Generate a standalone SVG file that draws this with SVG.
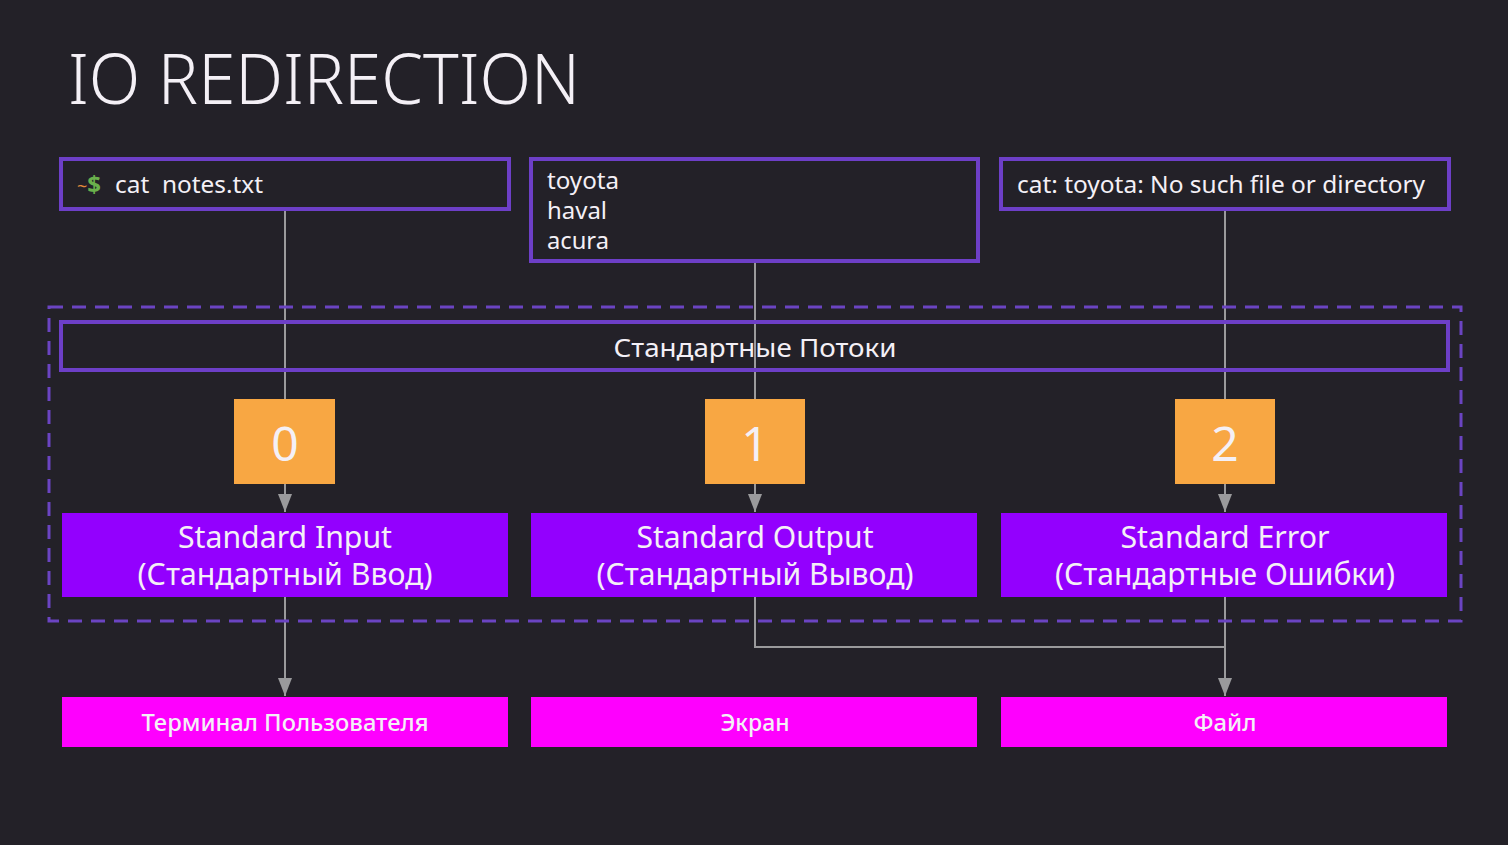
<svg xmlns="http://www.w3.org/2000/svg" width="1508" height="845" viewBox="0 0 1508 845">
<style>
.bg{fill:#232128}
.frame{fill:none;stroke:#6d3fc7;stroke-width:4}
.dash{fill:none;stroke:#6b44c2;stroke-width:3;stroke-dasharray:14 9}
.fd{fill:#f8a743}
.std{fill:#9300fe}
.dst{fill:#fe00fe}
.t{font-family:"Noto Sans","Open Sans","DejaVu Sans",sans-serif;fill:#f4f0f6}
.c{text-anchor:middle}
.conn{fill:none;stroke:#9a9a9c;stroke-width:2}
</style>
<defs>
<marker id="arr" viewBox="0 0 18 14" refX="18" refY="7" markerWidth="18" markerHeight="14" markerUnits="userSpaceOnUse" orient="auto">
<path d="M0,0 L18,7 L0,14 Z" fill="#9a9a9c"/>
</marker>
</defs>
<rect class="bg" x="0" y="0" width="1508" height="845"/>
<text class="t" x="68" y="104" font-size="70" font-weight="300" textLength="512" lengthAdjust="spacingAndGlyphs">IO REDIRECTION</text>

<g id="connectors">
<line class="conn" x1="285" y1="209" x2="285" y2="399"/>
<line class="conn" x1="755" y1="261" x2="755" y2="399"/>
<line class="conn" x1="1225" y1="209" x2="1225" y2="399"/>
<line class="conn" x1="285" y1="484" x2="285" y2="512" marker-end="url(#arr)"/>
<line class="conn" x1="755" y1="484" x2="755" y2="512" marker-end="url(#arr)"/>
<line class="conn" x1="1225" y1="484" x2="1225" y2="512" marker-end="url(#arr)"/>
<line class="conn" x1="285" y1="597" x2="285" y2="696" marker-end="url(#arr)"/>
<polyline class="conn" points="755,597 755,647 1225,647"/>
<line class="conn" x1="1225" y1="597" x2="1225" y2="696" marker-end="url(#arr)"/>
</g>

<g id="cmd">
<rect class="frame" x="61" y="159" width="448" height="50"/>
<text class="t" x="77" y="193" font-size="24"><tspan fill="#e0883a" font-size="18">~</tspan><tspan fill="#6ab04c" font-weight="700">$</tspan></text>
<text class="t" x="115" y="193" font-size="24" textLength="148" lengthAdjust="spacingAndGlyphs" xml:space="preserve">cat  notes.txt</text>
</g>

<g id="stdout-text">
<rect class="frame" x="531" y="159" width="447" height="102"/>
<text class="t" x="547" y="189" font-size="23" textLength="72" lengthAdjust="spacingAndGlyphs">toyota</text>
<text class="t" x="547" y="219" font-size="23" textLength="60" lengthAdjust="spacingAndGlyphs">haval</text>
<text class="t" x="547" y="249" font-size="23" textLength="62" lengthAdjust="spacingAndGlyphs">acura</text>
</g>

<g id="stderr-text">
<rect class="frame" x="1001" y="159" width="448" height="50"/>
<text class="t" x="1017" y="193" font-size="23" textLength="408" lengthAdjust="spacingAndGlyphs">cat: toyota: No such file or directory</text>
</g>

<g id="streams">
<rect class="dash" x="49" y="307" width="1412" height="314"/>
<rect class="frame" x="61" y="322" width="1387" height="48"/>
<text class="t c" x="755" y="357" font-size="26" textLength="283" lengthAdjust="spacingAndGlyphs">Стандартные Потоки</text>
</g>

<g id="fd0">
<rect class="fd" x="234" y="399" width="101" height="85"/>
<text class="t c" x="285" y="461" font-size="48">0</text>
</g>
<g id="fd1">
<rect class="fd" x="705" y="399" width="100" height="85"/>
<text class="t c" x="755" y="461" font-size="48">1</text>
</g>
<g id="fd2">
<rect class="fd" x="1175" y="399" width="100" height="85"/>
<text class="t c" x="1225" y="461" font-size="48">2</text>
</g>

<g id="stdin">
<rect class="std" x="62" y="513" width="446" height="84"/>
<text class="t c" x="285" y="548" font-size="30" textLength="214" lengthAdjust="spacingAndGlyphs">Standard Input</text>
<text class="t c" x="285" y="585" font-size="30" textLength="295" lengthAdjust="spacingAndGlyphs">(Стандартный Ввод)</text>
</g>
<g id="stdout">
<rect class="std" x="531" y="513" width="446" height="84"/>
<text class="t c" x="755" y="548" font-size="30" textLength="237" lengthAdjust="spacingAndGlyphs">Standard Output</text>
<text class="t c" x="755" y="585" font-size="30" textLength="317" lengthAdjust="spacingAndGlyphs">(Стандартный Вывод)</text>
</g>
<g id="stderr">
<rect class="std" x="1001" y="513" width="446" height="84"/>
<text class="t c" x="1225" y="548" font-size="30" textLength="209" lengthAdjust="spacingAndGlyphs">Standard Error</text>
<text class="t c" x="1225" y="585" font-size="30" textLength="340" lengthAdjust="spacingAndGlyphs">(Стандартные Ошибки)</text>
</g>

<g id="terminal">
<rect class="dst" x="62" y="697" width="446" height="50"/>
<text class="t c" x="285" y="731" font-size="23" font-weight="500" textLength="287" lengthAdjust="spacingAndGlyphs">Терминал Пользователя</text>
</g>
<g id="screen">
<rect class="dst" x="531" y="697" width="446" height="50"/>
<text class="t c" x="755" y="731" font-size="23" font-weight="500" textLength="69" lengthAdjust="spacingAndGlyphs">Экран</text>
</g>
<g id="file">
<rect class="dst" x="1001" y="697" width="446" height="50"/>
<text class="t c" x="1225" y="731" font-size="23" font-weight="500" textLength="63" lengthAdjust="spacingAndGlyphs">Файл</text>
</g>
</svg>
